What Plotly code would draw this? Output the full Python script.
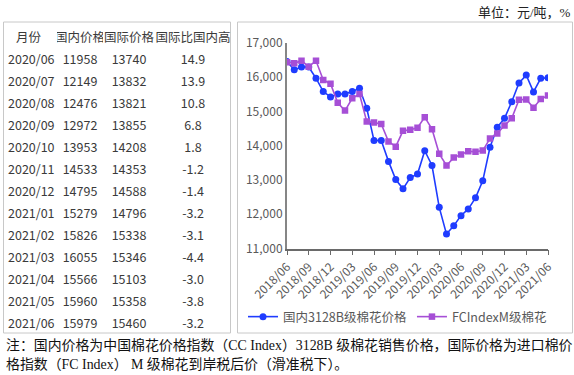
import plotly.graph_objects as go

# ---------------- data ----------------
months = ["2018/06", "2018/07", "2018/08", "2018/09", "2018/10", "2018/11", "2018/12",
          "2019/01", "2019/02", "2019/03", "2019/04", "2019/05", "2019/06", "2019/07",
          "2019/08", "2019/09", "2019/10", "2019/11", "2019/12", "2020/01", "2020/02",
          "2020/03", "2020/04", "2020/05", "2020/06", "2020/07", "2020/08", "2020/09",
          "2020/10", "2020/11", "2020/12", "2021/01", "2021/02", "2021/03", "2021/04",
          "2021/05", "2021/06"]
domestic = [16450, 16210, 16290, 16290, 15965, 15575, 15420, 15505, 15505, 15575, 15670,
            15090, 14150, 14150, 13540, 13010, 12740, 13070, 13170, 13850, 13420, 12200,
            11420, 11660, 11958, 12149, 12476, 12972, 13953, 14533, 14795, 15279, 15826,
            16055, 15566, 15960, 15979]
international = [16430, 16400, 16475, 16300, 16475, 15915, 15805, 15250, 15020, 15380,
                 15505, 14700, 14670, 14630, 14120, 13970, 14430, 14460, 14520, 14830,
                 14480, 13760, 13420, 13650, 13740, 13832, 13821, 13855, 14208, 14353,
                 14588, 14796, 15338, 15346, 15103, 15358, 15460]
tick_labels = ["2018/06", "2018/09", "2018/12", "2019/03", "2019/06", "2019/09", "2019/12",
               "2020/03", "2020/06", "2020/09", "2020/12", "2021/03", "2021/06"]

table_header = ["月份", "国内价格", "国际价格", "国际比国内高"]
table_months = ["2020/06", "2020/07", "2020/08", "2020/09", "2020/10", "2020/11", "2020/12",
                "2021/01", "2021/02", "2021/03", "2021/04", "2021/05", "2021/06"]
table_domestic = [11958, 12149, 12476, 12972, 13953, 14533, 14795, 15279, 15826, 16055,
                  15566, 15960, 15979]
table_international = [13740, 13832, 13821, 13855, 14208, 14353, 14588, 14796, 15338,
                       15346, 15103, 15358, 15460]
table_diff = [14.9, 13.9, 10.8, 6.8, 1.8, -1.2, -1.4, -3.2, -3.1, -4.4, -3.0, -3.8, -3.2]

series_names = ["国内3128B级棉花价格", "FCIndexM级棉花"]
unit_text = "单位：元/吨，%"
note_lines = ["注：国内价格为中国棉花价格指数（CC Index）3128B 级棉花销售价格，国际价格为进口棉价",
              "格指数（FC Index） M 级棉花到岸税后价（滑准税下）。"]

# ---------------- layout helpers ----------------
W, H = 574, 375
def px_x(x):
    return x / W
def px_y(y):
    return 1 - y / H

CJK = "Noto Sans CJK SC"
SERIF = "Liberation Serif, " + CJK
BLUE = "#1f3cff"
PURPLE = "#a64fd6"

fig = go.Figure()

# table
fig.add_trace(go.Table(
    domain=dict(x=[px_x(0), px_x(231)], y=[px_y(360), px_y(25)]),
    columnwidth=[57, 46, 52, 76],
    header=dict(values=table_header, height=22,
                align=["center", "center", "center", "center"],
                fill=dict(color="rgba(0,0,0,0)"), line=dict(color="rgba(0,0,0,0)", width=0),
                font=dict(family=CJK, size=12.5, color="#3a3a3a")),
    cells=dict(values=[table_months, table_domestic, table_international, table_diff],
               format=["", "", "", ".1f"], height=22,
               align=["left", "center", "center", "center"],
               fill=dict(color="rgba(0,0,0,0)"), line=dict(color="rgba(0,0,0,0)", width=0),
               font=dict(family=CJK, size=12.5, color="#3a3a3a")),
))

# lines
fig.add_trace(go.Scatter(
    x=months, y=domestic, name=series_names[0], mode="lines+markers",
    line=dict(color=BLUE, width=1.6), marker=dict(symbol="circle", size=7, color=BLUE),
))
fig.add_trace(go.Scatter(
    x=months, y=international, name=series_names[1], mode="lines+markers",
    line=dict(color=PURPLE, width=1.6), marker=dict(symbol="square", size=6.5, color=PURPLE),
))

fig.update_layout(
    width=W, height=H, margin=dict(l=0, r=0, t=0, b=0, autoexpand=False),
    paper_bgcolor="white", plot_bgcolor="white",
    font=dict(family=CJK, color="#595959"),
    showlegend=True,
    legend=dict(orientation="h", x=px_x(243), y=px_y(317), xanchor="left", yanchor="middle",
                font=dict(family=CJK, size=12.5, color="#595959"), itemwidth=30,
                bgcolor="rgba(0,0,0,0)", tracegroupgap=0),
    xaxis=dict(domain=[px_x(287), px_x(548)], type="category", range=[0, 36],
               tickmode="array", tickvals=tick_labels, ticktext=tick_labels,
               tickangle=-45, tickfont=dict(family=CJK, size=12, color="#595959"),
               showgrid=False, zeroline=False, showline=True, linecolor="#6a6a6a", linewidth=1.5,
               ticks="outside", ticklen=5, tickcolor="#6a6a6a", tickwidth=1.2,
               anchor="y", automargin=False),
    yaxis=dict(domain=[px_y(248.5), px_y(42.7)], range=[11000, 17000],
               tickvals=[11000, 12000, 13000, 14000, 15000, 16000, 17000], tickformat=",",
               tickfont=dict(family=CJK, size=12, color="#595959"),
               showgrid=False, zeroline=False, showline=True, linecolor="#868686", linewidth=2,
               ticks="", anchor="x", automargin=False),
    shapes=[
        dict(type="rect", xref="paper", yref="paper", x0=px_x(3.5), x1=px_x(230.5),
             y0=px_y(333), y1=px_y(22), line=dict(color="#c8c8c8", width=1), layer="below"),
        dict(type="rect", xref="paper", yref="paper", x0=px_x(237.5), x1=px_x(572.5),
             y0=px_y(333), y1=px_y(22), line=dict(color="#c8c8c8", width=1), layer="below"),
    ],
    annotations=[
        dict(text=unit_text, xref="paper", yref="paper", x=px_x(573), y=px_y(12),
             xanchor="right", yanchor="middle", showarrow=False,
             font=dict(family=SERIF, size=13, color="#222")),
        dict(text=note_lines[0], xref="paper", yref="paper", x=px_x(4), y=px_y(345),
             xanchor="left", yanchor="middle", align="left", showarrow=False,
             font=dict(family=SERIF, size=13.9, color="#111")),
        dict(text=note_lines[1], xref="paper", yref="paper", x=px_x(4), y=px_y(364),
             xanchor="left", yanchor="middle", align="left", showarrow=False,
             font=dict(family=SERIF, size=13.9, color="#111")),
    ],
)

fig.write_html("out.html", config={"displayModeBar": False},
               post_script="document.body.style.margin='0';")
